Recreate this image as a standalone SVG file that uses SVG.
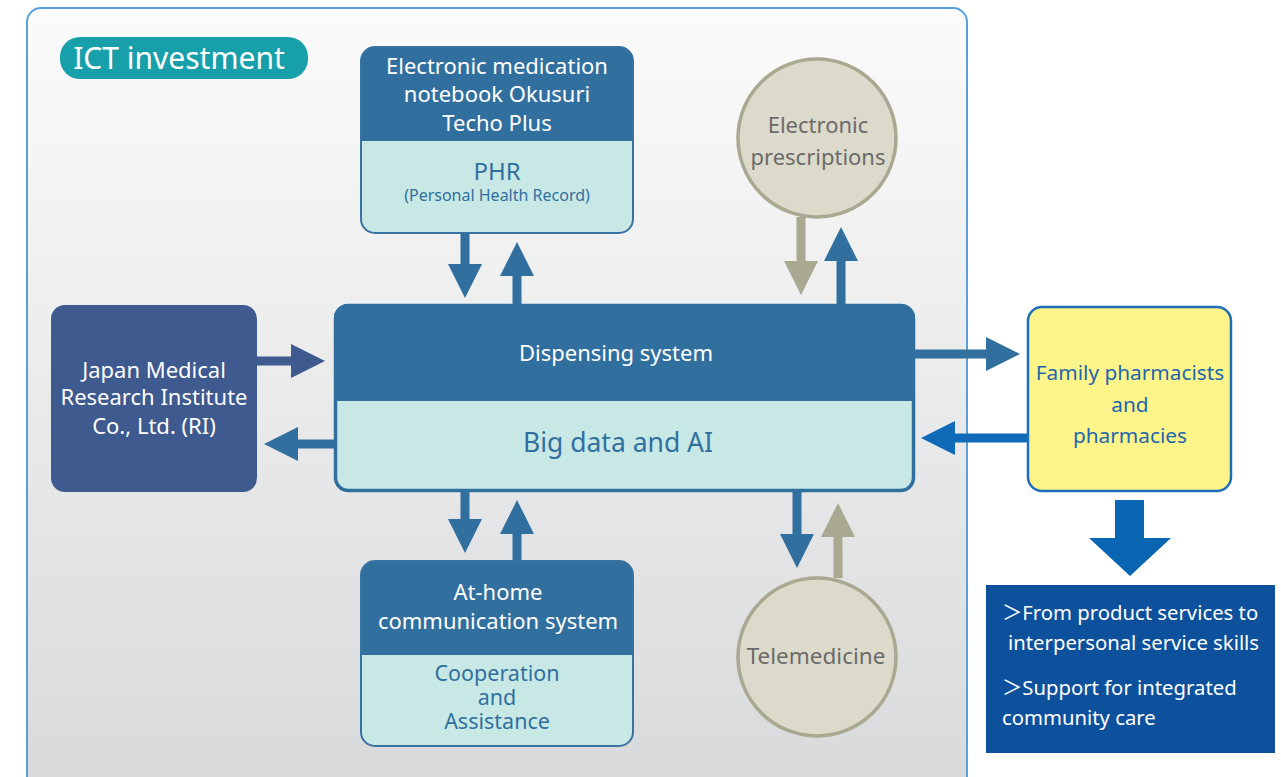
<svg xmlns="http://www.w3.org/2000/svg" width="1281" height="777" viewBox="0 0 1281 777">
<defs>
<linearGradient id="bg" x1="0" y1="0" x2="0" y2="1">
<stop offset="0" stop-color="#fbfbfb"/>
<stop offset="1" stop-color="#d8d9db"/>
</linearGradient>
<style>
text{font-family:"Noto Sans","Open Sans","Noto Sans CJK JP",sans-serif;text-anchor:middle}
.w{fill:#ffffff}
.b{fill:#31709e}
.g{fill:#6b6b6b}
.dark{fill:#31709e}
.light{fill:#c8e8e6}
.edge{fill:none;stroke:#3872a2;stroke-width:2}
.circ{fill:#dcdacb;stroke:#a9a891;stroke-width:3.5}
.ab{fill:#31709e}
.ag{fill:#a9a891}
.an{fill:#3e5a8e}
.ac{fill:#0f6bb7}
</style>
</defs>
<rect width="1281" height="777" fill="#ffffff"/>
<rect x="27" y="8" width="940" height="790" rx="14" fill="url(#bg)" stroke="#5aa0d8" stroke-width="2"/>
<g id="ict-label">
<rect x="60" y="37" width="248" height="42" rx="20" fill="#18a0aa"/>
<text x="179" y="69" class="w" font-size="30">ICT investment</text>
</g>
<g id="connectors">
<polygon class="ab" points="460.5,233 469.5,233 469.5,264 482,264 465,298 448,264 460.5,264"/>
<polygon class="ab" points="512.5,305 521.5,305 521.5,276 534,276 517,242 500,276 512.5,276"/>
<polygon class="ag" points="796.5,217 805.5,217 805.5,261 818,261 801,295 784,261 796.5,261"/>
<polygon class="ab" points="836.5,304 845.5,304 845.5,261 858,261 841,227 824,261 836.5,261"/>
<polygon class="ab" points="460.5,492 469.5,492 469.5,519 482,519 465,553 448,519 460.5,519"/>
<polygon class="ab" points="512.5,561 521.5,561 521.5,534 534,534 517,500 500,534 512.5,534"/>
<polygon class="ab" points="792.5,492 801.5,492 801.5,534 814,534 797,568 780,534 792.5,534"/>
<polygon class="ag" points="833.5,578 842.5,578 842.5,537 855,537 838,503 821,537 833.5,537"/>
<polygon class="an" points="257,356.5 291,356.5 291,344 325,361 291,378 291,365.5 257,365.5"/>
<polygon class="ab" points="334,439.5 298,439.5 298,427 264,444 298,461 298,448.5 334,448.5"/>
<polygon class="ab" points="915,349.5 986,349.5 986,337 1020,354 986,371 986,358.5 915,358.5"/>
<polygon class="ac" points="1027,433.5 955,433.5 955,421 921,438 955,455 955,442.5 1027,442.5"/>
<polygon fill="#0a66b3" points="1115,500 1144,500 1144,538 1171,538 1130,576 1089,538 1115,538"/>
</g>
<g id="phr">
<path class="light" d="M361,141 H633 V219 a14,14 0 0 1 -14,14 H375 a14,14 0 0 1 -14,-14 Z"/>
<path class="dark" d="M375,47 H619 a14,14 0 0 1 14,14 V141 H361 V61 a14,14 0 0 1 14,-14 Z"/>
<rect x="361" y="47" width="272" height="186" rx="14" class="edge"/>
<text x="497" y="74" class="w" font-size="22">Electronic medication</text>
<text x="497" y="102" class="w" font-size="22">notebook Okusuri</text>
<text x="497" y="131" class="w" font-size="22">Techo Plus</text>
<text x="497" y="180" class="b" font-size="24">PHR</text>
<text x="497" y="201" class="b" font-size="16">(Personal Health Record)</text>
</g>
<g id="dispensing">
<path class="light" d="M334,401 H915 V478 a14,14 0 0 1 -14,14 H348 a14,14 0 0 1 -14,-14 Z"/>
<path class="dark" d="M348,304 H901 a14,14 0 0 1 14,14 V401 H334 V318 a14,14 0 0 1 14,-14 Z"/>
<rect x="335.5" y="305.5" width="578" height="185" rx="13" fill="none" stroke="#31709e" stroke-width="3.5"/>
<text x="616" y="361" class="w" font-size="22">Dispensing system</text>
<text x="618" y="452" class="b" font-size="26.5">Big data and AI</text>
</g>
<g id="ri">
<rect x="51" y="305" width="206" height="187" rx="14" fill="#3e5a8e"/>
<text x="154" y="378" class="w" font-size="22">Japan Medical</text>
<text x="154" y="405" class="w" font-size="22">Research Institute</text>
<text x="154" y="434" class="w" font-size="22">Co., Ltd. (RI)</text>
</g>
<g id="e-prescriptions">
<circle cx="817" cy="138" r="79" class="circ"/>
<text x="818" y="133" class="g" font-size="22">Electronic</text>
<text x="818" y="165" class="g" font-size="22">prescriptions</text>
</g>
<g id="at-home">
<path class="light" d="M361,655 H633 V732 a14,14 0 0 1 -14,14 H375 a14,14 0 0 1 -14,-14 Z"/>
<path class="dark" d="M375,561 H619 a14,14 0 0 1 14,14 V655 H361 V575 a14,14 0 0 1 14,-14 Z"/>
<rect x="361" y="561" width="272" height="185" rx="14" class="edge"/>
<text x="498" y="600" class="w" font-size="22">At-home</text>
<text x="498" y="629" class="w" font-size="22">communication system</text>
<text x="497" y="681" class="b" font-size="21.5">Cooperation</text>
<text x="497" y="705" class="b" font-size="21.5">and</text>
<text x="497" y="729" class="b" font-size="21.5">Assistance</text>
</g>
<g id="telemedicine">
<circle cx="817" cy="657" r="79" class="circ"/>
<text x="816" y="664" class="g" font-size="22.5">Telemedicine</text>
</g>
<g id="family">
<rect x="1028" y="307" width="203" height="184" rx="14" fill="#fef58a" stroke="#1f6fb8" stroke-width="2.5"/>
<text x="1130" y="380" font-size="20.8" fill="#1d67ad">Family pharmacists</text>
<text x="1130" y="412" font-size="20.8" fill="#1d67ad">and</text>
<text x="1130" y="443" font-size="20.8" fill="#1d67ad">pharmacies</text>
</g>
<g id="outcomes">
<rect x="986" y="585" width="289" height="168" fill="#0d519c"/>
<text x="1002" y="620" class="w" font-size="20.3" style="text-anchor:start">＞From product services to</text>
<text x="1008" y="650" class="w" font-size="20.3" style="text-anchor:start">interpersonal service skills</text>
<text x="1002" y="695" class="w" font-size="20.3" style="text-anchor:start">＞Support for integrated</text>
<text x="1002" y="725" class="w" font-size="20.3" style="text-anchor:start">community care</text>
</g>
</svg>
